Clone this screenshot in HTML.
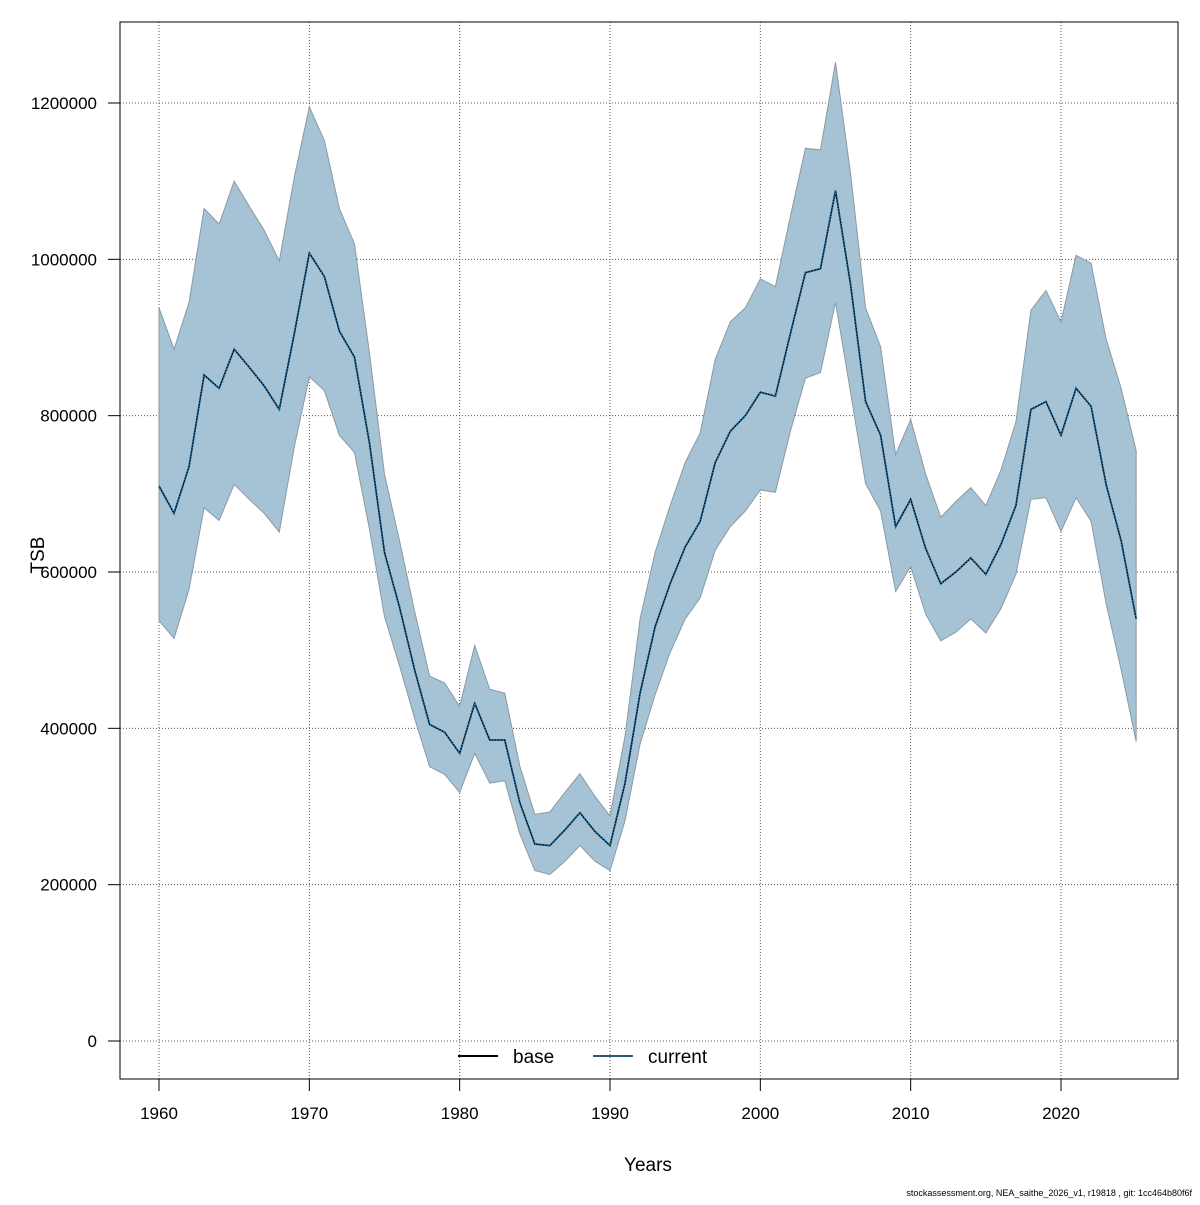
<!DOCTYPE html>
<html><head><meta charset="utf-8"><style>
body{margin:0;background:#fff}
svg text{font-family:"Liberation Sans",sans-serif}
</style></head><body>
<svg id="chart" width="1200" height="1200">
<g id="grid"></g>
<g id="marks"></g>
<rect x="120" y="22" width="1058" height="1057" fill="none" stroke="#000" stroke-width="1"/>
<g id="axes"></g>
<text x="648" y="1171" font-size="19" text-anchor="middle">Years</text>
<text x="0" y="0" font-size="19" text-anchor="middle" transform="translate(44,555) rotate(-90)">TSB</text>
<g>
<line x1="458" y1="1056" x2="498" y2="1056" stroke="#000" stroke-width="2"/>
<text x="513" y="1063" font-size="19">base</text>
<line x1="593" y1="1056" x2="633" y2="1056" stroke="#000" stroke-width="1.5"/>
<line x1="593" y1="1056" x2="633" y2="1056" stroke="#1a6fa8" stroke-width="2" stroke-dasharray="1.5,1.5"/>
<text x="648" y="1063" font-size="19">current</text>
</g>
<text x="1192" y="1196" font-size="9" text-anchor="end">stockassessment.org, NEA_saithe_2026_v1, r19818 , git: 1cc464b80f6f</text>
</svg>
<script>
const years=[];for(let y=1960;y<=2025;y++)years.push(y);
const mid=[710,675,735,852,835,885,862,838,808,905,1008,978,908,875,765,625,555,475,405,395,368,432,385,385,305,252,250,270,292,268,250,330,445,530,585,632,665,740,780,800,830,825,905,983,988,1088,968,818,775,658,693,630,585,600,618,597,635,685,808,818,775,835,812,712,640,540];
const upper=[938,885,945,1065,1045,1100,1068,1037,998,1105,1195,1152,1065,1020,880,725,640,550,467,458,428,506,450,445,352,290,293,318,342,313,288,390,540,625,685,740,778,872,920,938,975,965,1055,1142,1140,1252,1110,938,888,750,795,725,670,690,708,685,730,792,935,960,920,1005,995,898,835,755];
const lower=[538,515,578,682,666,712,693,675,651,760,850,832,775,753,655,543,480,413,351,341,318,368,330,333,265,218,213,230,250,230,218,282,380,443,497,540,567,628,658,678,705,702,780,848,855,945,830,713,678,575,607,546,512,523,540,522,553,597,693,695,652,695,665,560,475,383];
const xTicks=[1960,1970,1980,1990,2000,2010,2020];
const yTicks=[0,200000,400000,600000,800000,1000000,1200000];
const X=v=>159+(v-1960)*(1061-159)/60;
const Y=v=>1041-v*938/1200000;
const NS="http://www.w3.org/2000/svg";
function mk(tag,attrs,parent){const e=document.createElementNS(NS,tag);for(const k in attrs)e.setAttribute(k,attrs[k]);parent.appendChild(e);return e;}
const grid=document.getElementById('grid'),axes=document.getElementById('axes'),marks=document.getElementById('marks');
xTicks.forEach(t=>{
 const g=mk('line',{x1:X(t),x2:X(t),y1:22,y2:1079,stroke:'#555','stroke-dasharray':'1,2','stroke-width':1},grid);
 
 
 const tk=mk('line',{x1:X(t),x2:X(t),y1:1079,y2:1091,stroke:'#000'},axes);
 
 
 const tx=mk('text',{x:X(t),y:1119,'font-size':17,'text-anchor':'middle'},axes);tx.textContent=t;
 
 
});
mk('line',{x1:X(1960),x2:X(2020),y1:1079,y2:1079,stroke:'#000'},axes);
yTicks.forEach(t=>{
 const g=mk('line',{x1:120,x2:1178,y1:Y(t),y2:Y(t),stroke:'#555','stroke-dasharray':'1,2','stroke-width':1},grid);
 
 
 const tk=mk('line',{x1:108,x2:120,y1:Y(t),y2:Y(t),stroke:'#000'},axes);
 
 
 const tx=mk('text',{x:97,y:Y(t)+6,'font-size':17,'text-anchor':'end'},axes);tx.textContent=t;
 
 
});
let d='';years.forEach((y,i)=>{d+=(i?'L':'M')+X(y)+','+Y(upper[i]*1000);});
for(let i=years.length-1;i>=0;i--)d+='L'+X(years[i])+','+Y(lower[i]*1000);
const band=mk('path',{d:d+'Z',fill:'#a5c3d4',stroke:'#8a9aa4','stroke-width':1},marks);


const pts=years.map((y,i)=>X(y)+','+Y(mid[i]*1000)).join(' ');
const base=mk('polyline',{points:pts,fill:'none',stroke:'#000','stroke-width':1.5},marks);


const cur=mk('polyline',{points:pts,fill:'none',stroke:'#1a6fa8','stroke-width':2,'stroke-dasharray':'1.5,1.5'},marks);


</script>
</body></html>
